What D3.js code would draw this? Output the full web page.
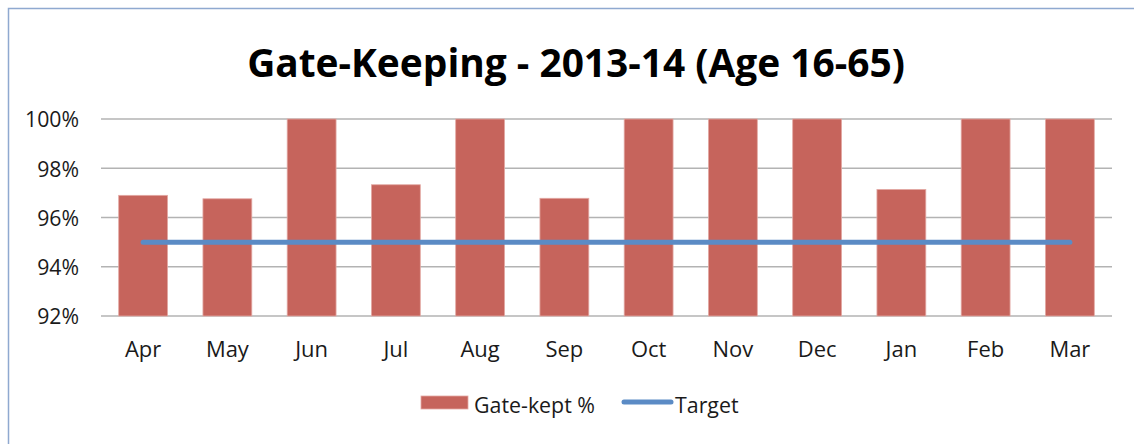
<!DOCTYPE html>
<html><head><meta charset="utf-8">
<script src="https://cdn.jsdelivr.net/npm/d3@7"></script>
<style>body{margin:0;background:#fff}svg{display:block}text{font-family:"Open Sans",sans-serif;fill:#1a1a1a}</style>
</head><body>
<svg id="c" width="1134" height="444"></svg>
<script>
const months = ["Apr","May","Jun","Jul","Aug","Sep","Oct","Nov","Dec","Jan","Feb","Mar"];
const gateKept = [96.9, 96.76, 100, 97.33, 100, 96.78, 100, 100, 100, 97.14, 100, 100];
const target = [95,95,95,95,95,95,95,95,95,95,95,95];
const yTicks = [92, 94, 96, 98, 100];
const title = "Gate-Keeping - 2013-14 (Age 16-65)";
const seriesNames = ["Gate-kept %", "Target"];

const svg = d3.select("#c");
svg.append("rect").attr("x",8.5).attr("y",8.5).attr("width",1140).attr("height",450)
  .attr("fill","none").attr("stroke","#8FA9D0").attr("stroke-width",1.5);

// font size that makes a sample string a given width
function fitSize(sample, width, weight){
  const tmp = svg.append("text").style("font-size","20px").style("font-weight",weight||"normal").text(sample);
  const w = tmp.node().getComputedTextLength(); tmp.remove();
  return 20*width/w;
}
const tickSize = fitSize("100%", 54);
const xSize = fitSize("May", 43);
const legSize = fitSize("Gate-kept %", 121);

const L=101, R=1112, T=119, B=316;
const x = d3.scaleBand().domain(months).range([L,R]).paddingInner(0.42).paddingOuter(0.21);
const y = d3.scaleLinear().domain([92,100]).range([B,T]);

svg.append("g").selectAll("line").data(yTicks).join("line")
  .attr("x1",L).attr("x2",R).attr("y1",d=>y(d)).attr("y2",d=>y(d))
  .attr("stroke","#b3b3b3").attr("stroke-width",1.5);

svg.append("g").selectAll("text").data(yTicks).join("text")
  .attr("x",79).attr("y",d=>y(d)+1).attr("dy","0.35em").attr("text-anchor","end")
  .style("font-size",tickSize+"px").text(d=>d+"%");

svg.append("g").selectAll("rect").data(gateKept).join("rect")
  .attr("x",(d,i)=>x(months[i])).attr("width",x.bandwidth())
  .attr("y",d=>y(d)).attr("height",d=>y(92)-y(d))
  .attr("fill","#C6645C").attr("stroke","#E3A9A4").attr("stroke-width",0.8);

const line = d3.line().x((d,i)=>x(months[i])+x.bandwidth()/2).y(d=>y(d));
svg.append("path").datum(target).attr("d",line).attr("fill","none")
  .attr("stroke","#5B8BC5").attr("stroke-width",5).attr("stroke-linecap","round");

svg.append("g").selectAll("text").data(months).join("text")
  .attr("x",d=>x(d)+x.bandwidth()/2).attr("y",349).attr("dy","0.35em")
  .attr("text-anchor","middle").style("font-size",xSize+"px").text(d=>d);

const t = svg.append("text").attr("x",576).attr("y",63).attr("dy","0.35em")
  .attr("text-anchor","middle").style("font-size","38px").style("font-weight","bold")
  .style("fill","#000").text(title);
const w = t.node().getComputedTextLength();
t.style("font-size",(38*658/w).toFixed(2)+"px");

svg.append("rect").attr("x",421).attr("y",396).attr("width",47).attr("height",13)
  .attr("fill","#C6645C").attr("stroke","#E3A9A4").attr("stroke-width",0.8);
svg.append("text").attr("x",474).attr("y",406).attr("dy","0.35em").style("font-size",legSize+"px").text(seriesNames[0]);
svg.append("line").attr("x1",624).attr("x2",671).attr("y1",402).attr("y2",402)
  .attr("stroke","#5B8BC5").attr("stroke-width",5).attr("stroke-linecap","round");
svg.append("text").attr("x",675).attr("y",406).attr("dy","0.35em").style("font-size",legSize+"px").text(seriesNames[1]);
</script>
</body></html>
